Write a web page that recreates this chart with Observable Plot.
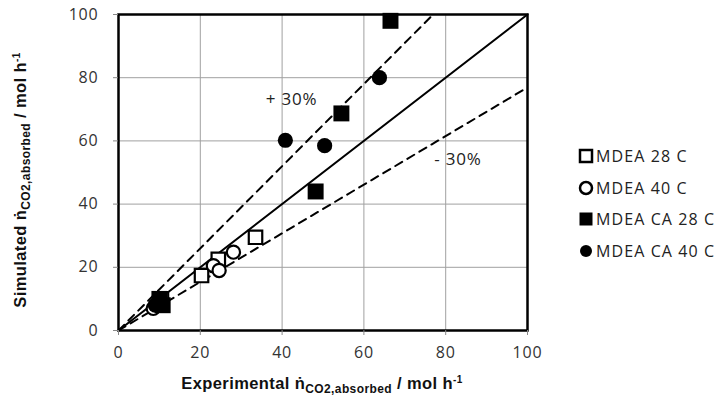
<!DOCTYPE html>
<html><head><meta charset="utf-8">
<script src="https://cdn.jsdelivr.net/npm/d3@7"></script>
<script src="https://cdn.jsdelivr.net/npm/@observablehq/plot@0.6"></script>
<style>
body{margin:0;background:#fff;}
#wrap{position:relative;width:722px;height:400px;}
#legend{position:absolute;left:578px;top:140px;font-family:"Open Sans",sans-serif;font-size:16px;letter-spacing:1.1px;color:#222;}
.li{display:flex;align-items:center;height:31.7px;}
.li svg{margin-right:2px;}
</style></head><body>
<div id="wrap"><div id="chart"></div><div id="legend"></div></div>
<script>
const ticks = [0, 20, 40, 60, 80, 100];
const seriesNames = ["MDEA 28 C", "MDEA 40 C", "MDEA CA 28 C", "MDEA CA 40 C"];
const mdea28X = [10.5, 20.3, 24.4, 33.5];
const mdea28Y = [10, 17.4, 22.5, 29.5];
const mdea40X = [8.5, 23.2, 24.6, 28.1];
const mdea40Y = [7, 20.5, 19, 24.8];
const mdeaCa28X = [10, 10.8, 48.2, 54.5, 66.5];
const mdeaCa28Y = [10, 8, 44, 68.7, 98];
const mdeaCa40X = [9, 40.8, 50.4, 63.8];
const mdeaCa40Y = [8, 60.2, 58.5, 80];
const parityX = [0, 100];
const upperX = [0, 76.9];   // +30% line end (y = 1.3x)
const lowerX = [0, 100];    // -30% line (y = x/1.3)
const labels = [{t:"+ 30%", x:42.3, y:73}, {t:"- 30%", x:83, y:54}];

const zip = (xs, ys) => xs.map((x, i) => ({x, y: ys[i]}));
const d28 = zip(mdea28X, mdea28Y), d40 = zip(mdea40X, mdea40Y);
const c28 = zip(mdeaCa28X, mdeaCa28Y), c40 = zip(mdeaCa40X, mdeaCa40Y);

const plot = Plot.plot({
  width: 722, height: 400,
  marginLeft: 118, marginRight: 195, marginTop: 14, marginBottom: 70,
  x: {domain: [0, 100]}, y: {domain: [0, 100]},
  style: {fontFamily: "'Open Sans', sans-serif", fontSize: "16px", color: "#333", letterSpacing: "0.8px"},
  marks: [
    Plot.gridX(ticks.slice(1, -1), {stroke: "#a0a0a0", strokeOpacity: 1, strokeWidth: 1}),
    Plot.gridY(ticks.slice(1, -1), {stroke: "#a0a0a0", strokeOpacity: 1, strokeWidth: 1}),
    Plot.line(parityX.map(x => ({x, y: x})), {x: "x", y: "y", stroke: "black", strokeWidth: 2}),
    Plot.line(upperX.map(x => ({x, y: 1.3 * x})), {x: "x", y: "y", stroke: "black", strokeWidth: 2, strokeDasharray: "8,6"}),
    Plot.line(lowerX.map(x => ({x, y: x / 1.3})), {x: "x", y: "y", stroke: "black", strokeWidth: 2, strokeDasharray: "8,6"}),
    Plot.dot(d28, {x: "x", y: "y", symbol: "square", r: 7.6, fill: "white", stroke: "black", strokeWidth: 2.2}),
    Plot.dot(d40, {x: "x", y: "y", symbol: "circle", r: 6.6, fill: "white", stroke: "black", strokeWidth: 2.2}),
    Plot.dot(c28, {x: "x", y: "y", symbol: "square", r: 9, fill: "black", stroke: "none"}),
    Plot.dot(c40, {x: "x", y: "y", symbol: "circle", r: 7.6, fill: "black", stroke: "none"}),
    Plot.text(labels, {x: "x", y: "y", text: "t", fontSize: 17, fill: "#222"}),
    Plot.frame({stroke: "black", strokeWidth: 2.5}),
    Plot.axisX(ticks, {tickSize: 5, tickPadding: 11, label: null, stroke: "#888", fill: "#333"}),
    Plot.axisY(ticks, {tickSize: 5, tickPadding: 15, label: null, stroke: "#888", fill: "#333"})
  ]
});
document.getElementById("chart").appendChild(plot);

// axis titles with sub/superscripts
const svg = d3.select(plot);
function title(g, main) {
  const t = g.append("text").attr("font-family", "'Liberation Sans', Arial, sans-serif")
    .attr("font-weight", "bold").attr("font-size", 16.5).attr("letter-spacing", "0.4px")
    .attr("fill", "#111").attr("text-anchor", "middle");
  t.append("tspan").text(main + " ṅ");
  t.append("tspan").attr("font-size", 12).attr("dy", 4).text("CO2,absorbed");
  t.append("tspan").attr("dy", -4).text(" / mol h");
  t.append("tspan").attr("font-size", 10).attr("dy", -6).text("-1");
  return t;
}
title(svg.append("g").attr("transform", "translate(322,389)"), "Experimental");
title(svg.append("g").attr("transform", "translate(26,180) rotate(-90)"), "Simulated");

// legend
const leg = document.getElementById("legend");
const shapes = [
  '<rect x="2" y="2" width="12" height="12" fill="white" stroke="black" stroke-width="2.5"/>',
  '<circle cx="8" cy="8" r="6" fill="white" stroke="black" stroke-width="2.5"/>',
  '<rect x="1.5" y="1.5" width="13" height="13" fill="black"/>',
  '<circle cx="8" cy="8" r="6" fill="black"/>'
];
seriesNames.forEach((n, i) => {
  const d = document.createElement("div"); d.className = "li";
  d.innerHTML = `<svg width="16" height="16">${shapes[i]}</svg><span>${n}</span>`;
  leg.appendChild(d);
});
</script></body></html>
